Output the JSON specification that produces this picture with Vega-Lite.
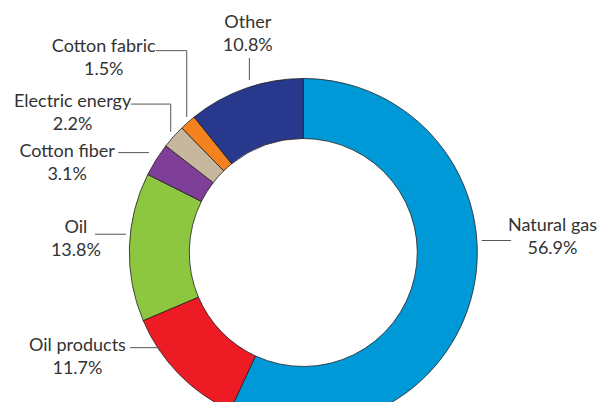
{
  "$schema": "https://vega.github.io/schema/vega-lite/v6.json",
  "width": 597,
  "height": 402,
  "autosize": "none",
  "padding": 0,
  "background": "white",
  "config": {"view": {"stroke": null}},
  "datasets": {
    "shares": [
      {"source": "Natural gas", "share": 56.9},
      {"source": "Oil products", "share": 11.7},
      {"source": "Oil", "share": 13.8},
      {"source": "Cotton fiber", "share": 3.1},
      {"source": "Electric energy", "share": 2.2},
      {"source": "Cotton fabric", "share": 1.5},
      {"source": "Other", "share": 10.8}
    ],
    "labelAnchors": [
      {"source": "Natural gas", "lx": 143.2, "ly": 12.4},
      {"source": "Oil products", "lx": -129.8, "ly": -56.6},
      {"source": "Oil", "lx": -130.7, "ly": 11.0},
      {"source": "Cotton fiber", "lx": -135.7, "ly": 55.1},
      {"source": "Electric energy", "lx": -132.6, "ly": 83.4},
      {"source": "Cotton fabric", "lx": -114.7, "ly": 115.1},
      {"source": "Other", "lx": -31.9, "ly": 128.9}
    ],
    "leaders": [
      {"source": "Natural gas", "x1": 102.5, "y1": 6.9, "x2": 119.4, "y2": 6.9},
      {"source": "Oil products", "x1": -99.6, "y1": -54.7, "x2": -82.4, "y2": -54.7},
      {"source": "Oil", "x1": -119.7, "y1": 10.5, "x2": -101.9, "y2": 10.5},
      {"source": "Cotton fiber", "x1": -106.3, "y1": 57.4, "x2": -88.7, "y2": 57.4},
      {"source": "Electric energy", "x1": -99.2, "y1": 85.3, "x2": -76.2, "y2": 85.3},
      {"source": "Electric energy", "x1": -76.2, "y1": 85.3, "x2": -76.2, "y2": 69.4},
      {"source": "Cotton fabric", "x1": -84.7, "y1": 116.0, "x2": -67.0, "y2": 116.0},
      {"source": "Cotton fabric", "x1": -67.0, "y1": 116.0, "x2": -67.0, "y2": 77.9},
      {"source": "Other", "x1": -31.0, "y1": 111.8, "x2": -31.0, "y2": 99.1}
    ]
  },
  "layer": [
    {
      "data": {"name": "shares"},
      "transform": [{"window": [{"op": "row_number", "as": "i"}]}],
      "mark": {"type": "arc", "outerRadius": 174, "innerRadius": 114, "stroke": "#231f20", "strokeWidth": 0.8},
      "encoding": {
        "theta": {"field": "share", "type": "quantitative", "stack": true},
        "order": {"field": "i", "type": "quantitative"},
        "color": {
          "field": "source",
          "type": "nominal",
          "scale": {
            "domain": ["Natural gas", "Oil products", "Oil", "Cotton fiber", "Electric energy", "Cotton fabric", "Other"],
            "range": ["#0099d8", "#ed1c24", "#8dc63f", "#7f3f98", "#c6b79e", "#f3821f", "#28388c"]
          },
          "legend": null
        },
        "x": {"datum": 0, "type": "quantitative", "scale": {"domain": [-174.31, 168.79], "nice": false, "zero": false}, "axis": null},
        "y": {"datum": 0, "type": "quantitative", "scale": {"domain": [-85.92, 145.11], "nice": false, "zero": false}, "axis": null}
      }
    },
    {
      "data": {"name": "leaders"},
      "mark": {"type": "rule", "color": "#555555", "strokeWidth": 1},
      "encoding": {
        "x": {"field": "x1", "type": "quantitative", "scale": {"domain": [-174.31, 168.79], "nice": false, "zero": false}, "axis": null},
        "y": {"field": "y1", "type": "quantitative", "scale": {"domain": [-85.92, 145.11], "nice": false, "zero": false}, "axis": null},
        "x2": {"field": "x2"},
        "y2": {"field": "y2"}
      }
    },
    {
      "data": {"name": "labelAnchors"},
      "transform": [
        {"lookup": "source", "from": {"data": {"name": "shares"}, "key": "source", "fields": ["share"]}},
        {"calculate": "datum.source + '\\n' + format(datum.share, '.1f') + '%'", "as": "label"}
      ],
      "mark": {"type": "text", "align": "center", "baseline": "alphabetic", "font": "Lato", "fontSize": 18, "lineHeight": 23, "color": "#333333", "lineBreak": "\n"},
      "encoding": {
        "x": {"field": "lx", "type": "quantitative", "scale": {"domain": [-174.31, 168.79], "nice": false, "zero": false}, "axis": null},
        "y": {"field": "ly", "type": "quantitative", "scale": {"domain": [-85.92, 145.11], "nice": false, "zero": false}, "axis": null},
        "text": {"field": "label"}
      }
    }
  ]
}
